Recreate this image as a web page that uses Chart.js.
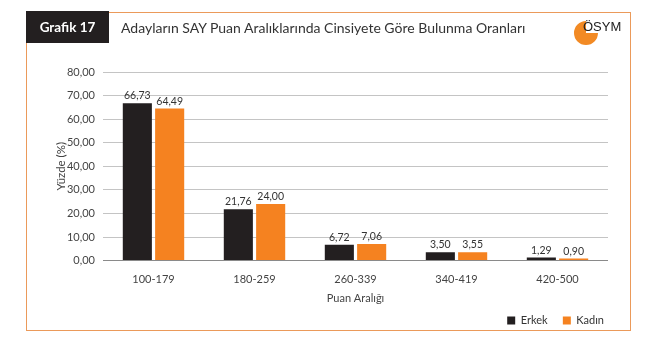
<!DOCTYPE html>
<html>
<head>
<meta charset="utf-8">
<script src="https://cdn.jsdelivr.net/npm/chart.js@4"></script>
<style>
	body { margin: 0; background: #fff; font-family: Lato, "Open Sans", sans-serif; }
	#wrap { position: relative; width: 650px; height: 350px; }
	#chart { position: absolute; left: 0; top: 0; }
	#frame {
		position: absolute; left: 26px; top: 12px; width: 603px; height: 317px;
		border: 1.5px solid #eb9a5a; pointer-events: none;
	}
	#tag {
		position: absolute; left: 26px; top: 11px; width: 83px; height: 32px;
		background: #231f20; color: #fff; font-weight: bold; font-size: 13.5px;
		line-height: 32px; text-align: center;
	}
	#title {
		position: absolute; left: 121px; top: 19px; font-size: 14px; color: #333;
	}
	#logo { position: absolute; left: 573px; top: 20px; width: 26px; height: 26px; }
	#logoText {
		position: absolute; left: 583px; top: 19px; font-size: 13px; color: #222;
		font-family: "Liberation Sans", Arial, sans-serif;
	}
</style>
</head>
<body>
<div id="wrap">
	<canvas id="chart" width="650" height="350"></canvas>
	<div id="frame"></div>
	<div id="tag">Grafik 17</div>
	<div id="title">Adayların SAY Puan Aralıklarında Cinsiyete Göre Bulunma Oranları</div>
	<svg id="logo" viewBox="0 0 26 26"><path d="M13 13 L13 1 A12 12 0 1 0 25 13 Z" fill="#f28a24"/></svg>
	<div id="logoText">ÖSYM</div>
</div>
<script>
// Data
const categories = ["100-179", "180-259", "260-339", "340-419", "420-500"];
const erkek = [66.73, 21.76, 6.72, 3.50, 1.29];
const kadin = [64.49, 24.00, 7.06, 3.55, 0.90];

function fmt(v) {
	return Number(v).toFixed(2).replace(".", ",");
}

// draw value on top of each bar
const valueLabels = {
	id: "valueLabels",
	afterDatasetsDraw(chart) {
		const ctx = chart.ctx;
		ctx.save();
		ctx.font = "10.5px Lato, sans-serif";
		ctx.fillStyle = "#333";
		ctx.textAlign = "center";
		ctx.textBaseline = "bottom";
		chart.data.datasets.forEach((ds, i) => {
			chart.getDatasetMeta(i).data.forEach((bar, j) => {
				ctx.fillText(fmt(ds.data[j]), bar.x, bar.y - 2);
			});
		});
		ctx.restore();
	}
};

const ctx = document.getElementById("chart").getContext("2d");
const myChart = new Chart(ctx, {
	type: "bar",
	data: {
		labels: categories,
		datasets: [
			{
				label: "Erkek",
				data: erkek,
				backgroundColor: "#231f20",
				categoryPercentage: 0.64,
				barPercentage: 0.9,
			},
			{
				label: "Kadın",
				data: kadin,
				backgroundColor: "#f58220",
				categoryPercentage: 0.64,
				barPercentage: 0.9,
			},
		],
	},
	options: {
		responsive: false,
		animation: false,
		layout: { padding: { left: 50, right: 42, top: 72, bottom: 14 } },
		plugins: {
			tooltip: { enabled: false },
			legend: {
				position: "bottom",
				align: "end",
				labels: {
					boxWidth: 8,
					boxHeight: 8,
					padding: 4,
					color: "#333",
					font: { family: "Lato", size: 11 },
					// a bit more room after the first item, like the original
					generateLabels: (chart) =>
						Chart.defaults.plugins.legend.labels.generateLabels(chart).map((item, i) => {
							if (i === 0) item.text = item.text + "    ";
							return item;
						}),
				},
			},
		},
		scales: {
			x: {
				grid: { display: false },
				border: { display: false },
				ticks: { color: "#444", font: { family: "Lato", size: 11 }, padding: 4 },
				title: {
					display: true,
					text: "Puan Aralığı",
					color: "#444",
					font: { family: "Lato", size: 11 },
					padding: { top: 2, bottom: 6 },
				},
			},
			y: {
				min: 0,
				max: 80,
				ticks: {
					stepSize: 10,
					color: "#444",
					font: { family: "Lato", size: 11 },
					padding: 8,
					callback: (v) => fmt(v),
				},
				grid: {
					color: (c) => (c.tick && c.tick.value === 0 ? "#8a8a8a" : "#c4c4c4"),
					drawTicks: false,
				},
				border: { display: false },
				title: {
					display: true,
					text: "Yüzde (%)",
					color: "#444",
					font: { family: "Lato", size: 11.5 },
				},
				afterFit: (scale) => { scale.width = 53; },
			},
		},
	},
	plugins: [valueLabels],
});
</script>
</body>
</html>
